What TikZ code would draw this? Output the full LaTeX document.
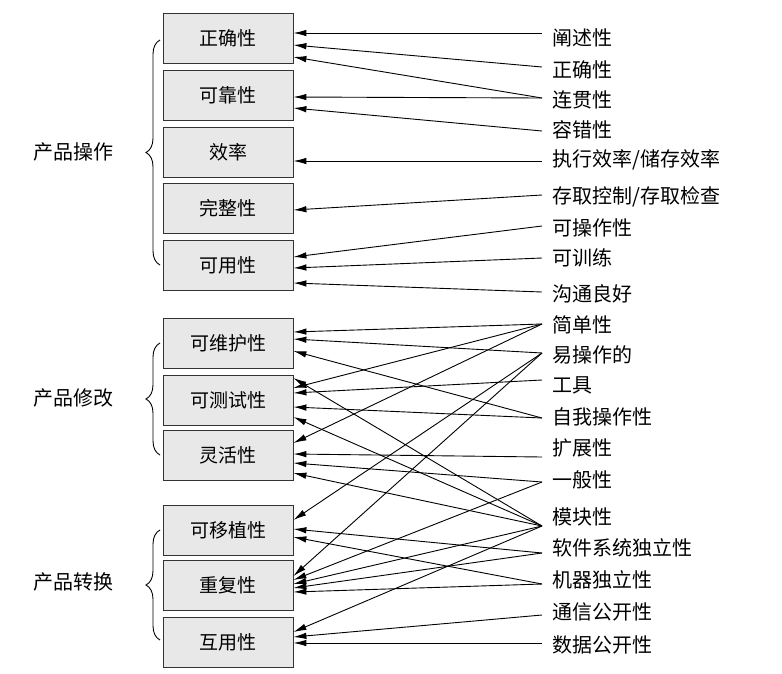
\documentclass[tikz,border=0pt]{standalone}
\usepackage{fontspec}
\newfontfamily\cjk{Noto Sans CJK SC}
\usetikzlibrary{arrows.meta,decorations.pathreplacing}
\begin{document}
\begin{tikzpicture}[x=1pt,y=-1pt,
  box/.style={draw=black!80,line width=0.8pt,fill=black!9,minimum width=130pt,minimum height=50pt,inner sep=0pt,font=\cjk\fontsize{19}{22}\selectfont},
  lab/.style={anchor=west,inner sep=0pt,font=\cjk\fontsize{20}{22}\selectfont},
  grp/.style={anchor=east,inner sep=0pt,font=\cjk\fontsize{20}{22}\selectfont},
  arr/.style={-{Latex[length=13pt,width=6.5pt]},line width=0.9pt},
  br/.style={decorate,decoration={brace,amplitude=14pt,mirror},line width=0.9pt}]
\useasboundingbox (0,0) rectangle (782,673);
\node[box] (b1) at (228,38) {正确性};
\node[box] (b2) at (228,95) {可靠性};
\node[box] (b3) at (228,152) {效率};
\node[box] (b4) at (228,208) {完整性};
\node[box] (b5) at (228,265) {可用性};
\node[box] (b6) at (228,343) {可维护性};
\node[box] (b7) at (228,400) {可测试性};
\node[box] (b8) at (228,455) {灵活性};
\node[box] (b9) at (228,530) {可移植性};
\node[box] (b10) at (228,585) {重复性};
\node[box] (b11) at (228,642) {互用性};
\foreach \i/\y/\t in {1/38/阐述性,2/70/正确性,3/100/连贯性,4/130/容错性,5/160/{执行效率/储存效率},6/197/{存取控制/存取检查},7/228/可操作性,8/258/可训练,9/294/沟通良好,10/325/简单性,11/355/易操作的,12/385/工具,13/417/自我操作性,14/448/扩展性,15/480/一般性,16/517/模块性,17/548/软件系统独立性,18/580/机器独立性,19/612/通信公开性,20/645/数据公开性}
  {\node[lab] (r\i) at (552,\y) {\t};}
\foreach \i/\y in {1/33,2/67,3/98,4/131,5/161,6/195,7/226,8/258,9/292,10/324,11/353,12/380,13/418,14/457,15/482,16/526,17/553,18/584,19/615,20/643}
  {\coordinate (s\i) at (542,\y);}
\foreach \s/\b/\y in {1/1/33,2/1/45,3/1/57,3/2/97,4/2/108,5/3/161,6/4/210,7/5/257,8/5/268,9/5/283,
  10/6/332,11/6/339,13/6/351,
  10/7/388,12/7/393,13/7/407,16/7/378,16/7/417,
  10/8/443,14/8/454,15/8/463,16/8/473,
  11/9/520,17/9/529,18/9/537,
  11/10/576,15/10/580,16/10/584,17/10/588,18/10/592,
  16/11/632,19/11/637,20/11/643}
  {\draw[arr] (s\s) -- (b\b.east |- 0,\y);}
\draw[br] (160,40) -- (160,265);
\draw[br] (160,343) -- (160,455);
\draw[br] (160,530) -- (160,640);
\node[grp] (g1) at (114,152) {产品操作};
\node[grp] (g2) at (114,398) {产品修改};
\node[grp] (g3) at (114,582) {产品转换};
\end{tikzpicture}
\end{document}
